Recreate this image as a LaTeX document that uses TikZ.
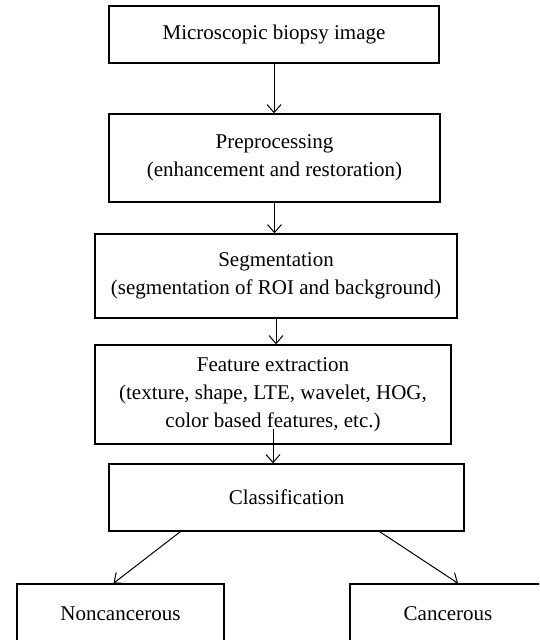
\documentclass[tikz,border=0pt]{standalone}
\usepackage{fontspec}
\setmainfont{Liberation Serif}
\usetikzlibrary{arrows.meta}

\begin{document}
\begin{tikzpicture}[x=0.5pt,y=-0.5pt,
    box/.style={draw,line width=0.7pt,align=center,inner sep=2pt,
      font=\fontsize{10.5}{14}\selectfont},
    arr/.style={-{Straight Barb[length=4pt,width=7pt]},line width=0.5pt}]
    \useasboundingbox (0,0) rectangle (539,640);
    \clip (0,0) rectangle (539,640);
    \node[box,minimum width=165pt,minimum height=28.5pt] (img) at (274,34.5) {Microscopic biopsy image};
    \node[box,minimum width=165.5pt,minimum height=44pt] (pre) at (274.5,158) {Preprocessing\\(enhancement and restoration)};
    \node[box,minimum width=181pt,minimum height=42pt] (seg) at (276,276) {Segmentation\\(segmentation of ROI and background)};
    \node[box,minimum width=178pt,minimum height=49.5pt] (feat) at (273,394.5) {Feature extraction\\(texture, shape, LTE, wavelet, HOG,\\color based features, etc.)};
    \node[box,minimum width=177.5pt,minimum height=33.5pt] (cls) at (286.5,497.5) {Classification};
    \node[box,minimum width=103.5pt,minimum height=30pt] (non) at (120.5,614) {Noncancerous};
    \node[box,minimum width=98pt,minimum height=30pt] (can) at (448,614) {Cancerous};
    \coordinate (featout) at ([yshift=8pt]feat.south);
    \draw[arr] (img.south) -- (img.south |- pre.north);
    \draw[arr] (pre.south) -- (pre.south |- seg.north);
    \draw[arr] (seg.south) -- (seg.south |- feat.north);
    \draw[arr] (featout) -- (featout |- cls.north);
    \draw[arr] ([xshift=36pt]cls.south west) -- ([xshift=-3.5pt]non.north);
    \draw[arr] ([xshift=-42.5pt]cls.south east) -- ([xshift=5pt]can.north);
  \end{tikzpicture}
\end{document}
